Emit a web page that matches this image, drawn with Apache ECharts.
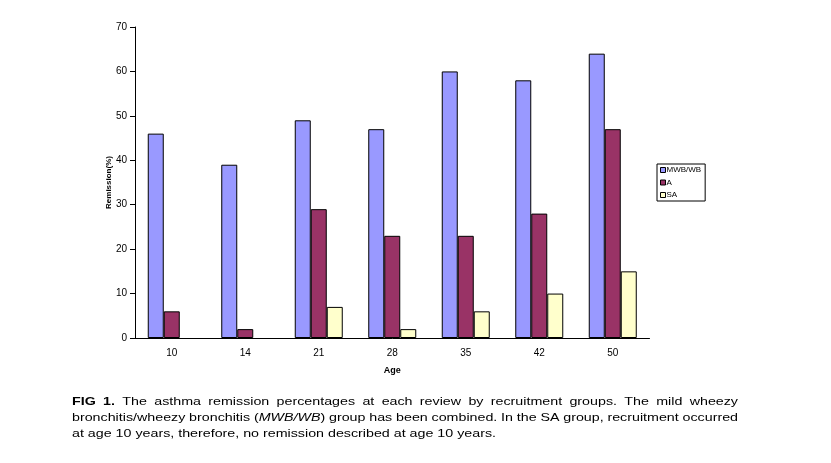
<!DOCTYPE html>
<html>
<head>
<meta charset="utf-8">
<script src="https://cdn.jsdelivr.net/npm/echarts@6/dist/echarts.min.js"></script>
<style>html,body{margin:0;padding:0;background:#fff}#c{width:831px;height:463px}</style>
</head>
<body>
<div id="c"></div>
<script>
const categories = ['10', '14', '21', '28', '35', '42', '50'];
const mwbWb = [46, 39, 49, 47, 60, 58, 64];
const groupA = [6, 2, 29, 23, 23, 28, 47];
const groupSA = [null, null, 7, 2, 6, 10, 15];
const seriesNames = ['MWB/WB', 'A', 'SA'];
const yMin = 0, yMax = 70, yStep = 10;
const xAxisName = 'Age';
const yAxisName = 'Remission(%)';
const captionLines = [
  '**FIG** **1.** The asthma remission percentages at each review by recruitment groups. The mild wheezy',
  'bronchitis/wheezy bronchitis (_MWB/WB_) group has been combined. In the SA group, recruitment occurred',
  'at age 10 years, therefore, no remission described at age 10 years.'
];

const FONT = '"Liberation Sans", Arial, sans-serif';
const colors = ['#9999FF', '#993366', '#FFFFCC'];

// caption layout
const capFontSize = 11.5;
const capLeft = 72, capRight = 738, lastLineRight = 496;
const capY = [402, 418, 434];
const cv = document.createElement('canvas').getContext('2d');
function segs(word) {
  return word.split(/(\*\*[^*]+\*\*|_[^_]+_)/).filter(s => s.length).map(s => {
    if (s.startsWith('**')) return { t: s.slice(2, -2), w: 'bold', st: 'normal' };
    if (s.startsWith('_')) return { t: s.slice(1, -1), w: 'normal', st: 'italic' };
    return { t: s, w: 'normal', st: 'normal' };
  });
}
function measure(seg) {
  cv.font = `${seg.st} ${seg.w} ${capFontSize}px ${FONT}`;
  return cv.measureText(seg.t).width;
}
const lines = captionLines.map(l => l.split(' ').map(w => {
  const ss = segs(w); ss.forEach(s => s.width = measure(s));
  return { segs: ss, width: ss.reduce((a, s) => a + s.width, 0) };
}));
cv.font = `normal normal ${capFontSize}px ${FONT}`;
const spaceW = cv.measureText(' ').width;
const last = lines[lines.length - 1];
const lastNat = last.reduce((a, w) => a + w.width, 0) + spaceW * (last.length - 1);
const sx = (lastLineRight - capLeft) / lastNat;
const graphics = [];
lines.forEach((words, li) => {
  const sum = words.reduce((a, w) => a + w.width, 0) * sx;
  let gap = spaceW * sx;
  if (li < lines.length - 1) gap = (capRight - capLeft - sum) / (words.length - 1);
  let x = capLeft;
  words.forEach(w => {
    let xx = x;
    w.segs.forEach(s => {
      graphics.push({
        type: 'text', x: xx, y: capY[li], scaleX: sx, silent: true,
        style: { text: s.t, fill: '#000', fontSize: capFontSize, fontWeight: s.w, fontStyle: s.st,
          fontFamily: FONT, align: 'left', verticalAlign: 'middle' }
      });
      xx += s.width * sx;
    });
    x += w.width * sx + gap;
  });
});

const chart = echarts.init(document.getElementById('c'), null, { renderer: 'canvas' });
const mk = (name, data, i) => ({
  name, type: 'bar', data, barWidth: 16, barGap: '0%',
  itemStyle: { color: colors[i], borderColor: '#000', borderWidth: 1, borderRadius: 0 },
  emphasis: { disabled: true },
  animation: false
});
chart.setOption({
  animation: false,
  backgroundColor: '#fff',
  textStyle: { fontFamily: FONT },
  grid: { left: 135, right: 181.5, top: 27, bottom: 125, containLabel: false },
  legend: {
    orient: 'vertical', left: 657, top: 164, icon: 'rect',
    padding: [2, 4, 2, 3], itemWidth: 5, itemHeight: 5, itemGap: 4.5,
    borderColor: '#000', borderWidth: 1, borderRadius: 0,
    textStyle: { fontSize: 8, color: '#000', fontFamily: FONT, lineHeight: 8, padding: [0, 0, 0, -4] },
    itemStyle: { borderColor: '#000', borderWidth: 1 },
    data: seriesNames
  },
  xAxis: {
    type: 'category', data: categories,
    name: xAxisName, nameLocation: 'middle', nameGap: 28, nameMoveOverlap: false,
    nameTextStyle: { fontSize: 9, fontWeight: 'bold', color: '#000' },
    axisLine: { lineStyle: { color: '#000', width: 1 } },
    axisTick: { show: false },
    axisLabel: { fontSize: 10, color: '#000', margin: 10 }
  },
  yAxis: {
    type: 'value', min: yMin, max: yMax, interval: yStep,
    name: yAxisName, nameLocation: 'middle', nameGap: 22, nameMoveOverlap: false,
    nameTextStyle: { fontSize: 8, fontWeight: 'bold', color: '#000' },
    axisLine: { show: true, lineStyle: { color: '#000', width: 1 } },
    axisTick: { show: true, length: 5, lineStyle: { color: '#000' } },
    axisLabel: { fontSize: 10, color: '#000', margin: 8 },
    splitLine: { show: false }
  },
  series: [mk(seriesNames[0], mwbWb, 0), mk(seriesNames[1], groupA, 1), mk(seriesNames[2], groupSA, 2)],
  graphic: graphics
});
</script>
</body>
</html>
